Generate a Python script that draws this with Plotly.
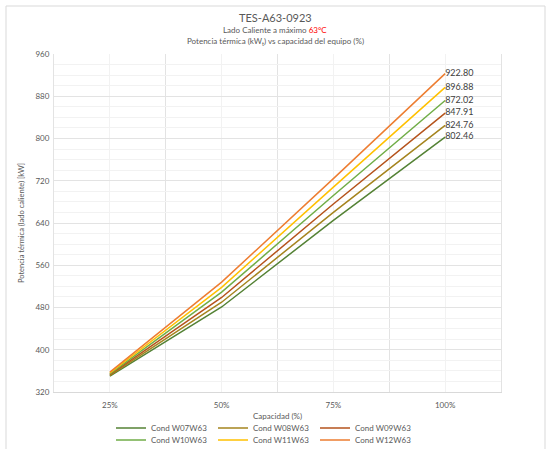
import plotly.graph_objects as go

categories = ["25%", "50%", "75%", "100%"]
series_names = ["Cond W07W63", "Cond W08W63", "Cond W09W63",
                "Cond W10W63", "Cond W11W63", "Cond W12W63"]
w07 = [350.0, 481.0, 645.0, 802.46]
w08 = [351.5, 490.0, 660.0, 824.76]
w09 = [353.0, 499.0, 676.0, 847.91]
w10 = [354.5, 509.0, 692.0, 872.02]
w11 = [356.0, 518.0, 708.0, 896.88]
w12 = [357.5, 528.0, 724.0, 922.80]
series_values = [w07, w08, w09, w10, w11, w12]
colors = ["#548235", "#A5841E", "#B5531C", "#70AD47", "#FFC000", "#ED7D31"]

FONT = "Lato, Liberation Sans, sans-serif"
xpos = list(range(len(categories)))

L, R, T, B = 54, 45, 54, 57
W, H = 546, 449
pw, ph = W - L - R, H - T - B


def px_x(px):
    return (px - L) / pw


def px_y(py):
    return (H - B - py) / ph


fig = go.Figure()
for i, (name, vals, col) in enumerate(zip(series_names, series_values, colors)):
    fig.add_trace(go.Scatter(
        x=xpos, y=vals, name=name, mode="lines+text",
        line=dict(color=col, width=1.5),
        text=[""] * (len(vals) - 1) + [f"{vals[-1]:.2f}"],
        textposition="middle right",
        textfont=dict(size=9, color="#404040", family=FONT),
        cliponaxis=False,
        legend="legend" if i < 3 else "legend2",
    ))

leg_common = dict(
    orientation="h", xanchor="left", yanchor="middle",
    entrywidth=57, itemwidth=30,
    font=dict(size=8, color="#595959", family=FONT),
    bgcolor="rgba(0,0,0,0)",
)

fig.update_layout(
    width=W, height=H,
    margin=dict(l=L, r=R, t=T, b=B, autoexpand=False),
    paper_bgcolor="white", plot_bgcolor="white",
    font=dict(family=FONT, color="#595959", size=8),
    xaxis=dict(
        range=[-0.5, 3.5], tickmode="array", tickvals=xpos, ticktext=categories,
        showgrid=True, gridcolor="#F2F2F2", gridwidth=1,
        minor=dict(tickmode="array", tickvals=[0.5, 1.5, 2.5], showgrid=True,
                   gridcolor="#E3E3E3", gridwidth=1),
        showline=True, linecolor="#D9D9D9", linewidth=1,
        zeroline=False, ticks="", ticklabelstandoff=5,
        tickfont=dict(size=8, color="#595959"),
        title=dict(text="Capacidad (%)", font=dict(size=8, color="#595959"), standoff=4),
    ),
    yaxis=dict(
        range=[320, 960], dtick=80, tick0=320,
        showgrid=True, gridcolor="#E3E3E3", gridwidth=1,
        minor=dict(dtick=20, showgrid=True, gridcolor="#F2F2F2", gridwidth=1),
        showline=True, linecolor="#E3E3E3", linewidth=1, mirror=True,
        zeroline=False, ticks="", ticklabelstandoff=2,
        tickfont=dict(size=8, color="#595959"),
        title=dict(text="Potencia térmica (lado caliente) [kW]",
                   font=dict(size=7.5, color="#595959"), standoff=9),
    ),
    legend=dict(x=px_x(111), y=px_y(428), **leg_common),
    legend2=dict(x=px_x(111), y=px_y(440), **leg_common),
    showlegend=True,
)

fig.add_annotation(text="TES-A63-0923", xref="paper", yref="paper",
                   x=px_x(275), y=px_y(17), xanchor="center", yanchor="middle",
                   showarrow=False, font=dict(size=11, color="#595959", family=FONT))
fig.add_annotation(text="Lado Caliente a máximo <span style='color:#FF0000'>63°C</span>",
                   xref="paper", yref="paper",
                   x=px_x(275), y=px_y(29.5), xanchor="center", yanchor="middle",
                   showarrow=False, font=dict(size=8, color="#595959", family=FONT))
fig.add_annotation(text="Potencia térmica (kW<sub>t</sub>) vs capacidad del equipo (%)",
                   xref="paper", yref="paper",
                   x=px_x(275), y=px_y(41.5), xanchor="center", yanchor="middle",
                   showarrow=False, font=dict(size=8, color="#595959", family=FONT))

fig.add_shape(type="rect", xref="paper", yref="paper",
              x0=px_x(6), x1=px_x(545),
              y0=px_y(460), y1=px_y(6),
              line=dict(color="#D9D9D9", width=1), layer="below")

fig.write_html(
    "out.html",
    config={"displayModeBar": False},
    post_script="document.body.style.margin='0';document.body.style.overflow='hidden';",
)
